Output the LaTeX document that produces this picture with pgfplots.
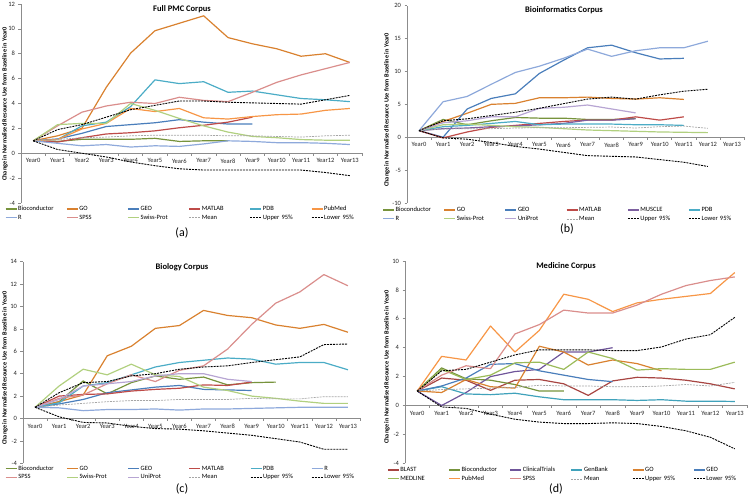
\documentclass[border=0pt]{standalone}
\usepackage{pgfplots}
\pgfplotsset{compat=1.18}
\usepackage{fontspec}
\setmainfont{Carlito}
\definecolor{axisgray}{HTML}{8C8C8C}
\definecolor{cBioc}{HTML}{77933C}
\definecolor{cGO}{HTML}{D9812F}
\definecolor{cGEO}{HTML}{4A7EBB}
\definecolor{cMATLAB}{HTML}{BE4B48}
\definecolor{cPDB}{HTML}{4BACC6}
\definecolor{cPubMed}{HTML}{F79646}
\definecolor{cR}{HTML}{8EA9DB}
\definecolor{cSPSS}{HTML}{DA8E8C}
\definecolor{cSwiss}{HTML}{B1D07F}
\definecolor{cMean}{HTML}{A6A6A6}
\definecolor{cMUSCLE}{HTML}{7D60A0}
\definecolor{cUniProt}{HTML}{B7A5D3}
\definecolor{cBLAST}{HTML}{A84542}
\definecolor{cClin}{HTML}{6F559A}
\definecolor{cGenBank}{HTML}{40A2BB}
\definecolor{cMEDLINE}{HTML}{9BBB59}
\pgfplotsset{
  panel/.style={
    scale only axis, anchor=south west,
    xmin=-0.5, xmax=13.5,
    axis y line*=left, axis x line*=middle,
    axis line style={draw=axisgray, line width=0.6pt},
    xtick={-0.5,0.5,...,13.5}, xticklabels={},
    extra x ticks={0,1,...,13},
    extra x tick labels={Year0,Year1,Year2,Year3,Year4,Year5,Year6,Year7,Year8,Year9,Year10,Year11,Year12,Year13},
    extra x tick style={major tick length=0pt, xticklabel style={yshift=-2pt}},
    tick align=outside, major tick length=2.5pt,
    tick style={draw=axisgray, line width=0.6pt},
    ticklabel style={font=\fontsize{6.5}{7}\selectfont, text=black!85},
    /pgf/number format/assume math mode=true,
    every axis plot/.append style={line width=1.2pt, line join=round},
    legend columns=6,
    legend cell align=left,
    legend image code/.code={\draw[##1] (0pt,0pt) -- (11pt,0pt);},
    legend style={draw=none, fill=none, inner sep=0pt, outer sep=0pt, anchor=north west,
      font=\fontsize{6.5}{7}\selectfont,
      nodes={inner xsep=1pt, inner ysep=1.2pt, text width=47pt, text height=5pt, text depth=1.5pt},
      /tikz/every even column/.append style={column sep=0pt},
      row sep=0pt},
  },
  ci/.style={black, line width=0.9pt, dash pattern=on 2pt off 1pt},
  mn/.style={cMean, line width=0.7pt, dash pattern=on 2pt off 1pt},
}
\begin{document}
\begin{tikzpicture}[x=1pt,y=1pt]
\path[use as bounding box] (0,0) rectangle (748,498);
% ---------------- (a)
\begin{axis}[panel, at={(21pt,295pt)}, width=341pt, height=199pt,
  ymin=-4, ymax=12, ytick={-4,-2,...,12},
  legend style={at={(-0.047,-0.0075)}}]
\addplot[cBioc] coordinates {(0,1)(1,0.95)(2,1.12)(3,1.12)(4,1.12)(5,1.2)(6,0.95)(7,1.0)(8,1.0)};
\addlegendentry{Bioconductor}
\addplot[cGO] coordinates {(0,1)(1,1.4)(2,2.0)(3,5.3)(4,8.05)(5,9.85)(6,10.45)(7,11.05)(8,9.3)(9,8.8)(10,8.4)(11,7.8)(12,8.0)(13,7.3)};
\addlegendentry{GO}
\addplot[cGEO] coordinates {(0,1)(1,1.15)(2,1.6)(3,2.15)(4,2.3)(5,2.45)(6,2.7)(7,2.5)(8,2.35)(9,2.35)};
\addlegendentry{GEO}
\addplot[cMATLAB] coordinates {(0,1)(1,0.9)(2,1.25)(3,1.55)(4,1.65)(5,1.8)(6,2.05)(7,2.25)(8,2.5)(9,2.9)};
\addlegendentry{MATLAB}
\addplot[cPDB] coordinates {(0,1)(1,1.1)(2,2.2)(3,2.5)(4,3.75)(5,5.9)(6,5.6)(7,5.75)(8,4.9)(9,5.0)(10,4.7)(11,4.4)(12,4.3)(13,4.15)};
\addlegendentry{PDB}
\addplot[cPubMed] coordinates {(0,1)(1,1.1)(2,1.95)(3,2.4)(4,3.6)(5,3.35)(6,3.6)(7,2.85)(8,2.75)(9,2.95)(10,3.1)(11,3.15)(12,3.45)(13,3.6)};
\addlegendentry{PubMed}
\addplot[cR] coordinates {(0,1)(1,0.8)(2,0.6)(3,0.7)(4,0.5)(5,0.6)(6,0.55)(7,0.75)(8,1.0)(9,0.95)(10,0.85)(11,0.85)(12,0.8)(13,0.7)};
\addlegendentry{R}
\addplot[cSPSS] coordinates {(0,1)(1,2.2)(2,3.3)(3,3.8)(4,4.1)(5,4.0)(6,4.5)(7,4.25)(8,4.15)(9,4.9)(10,5.7)(11,6.3)(12,6.8)(13,7.3)};
\addlegendentry{SPSS}
\addplot[cSwiss] coordinates {(0,1)(1,2.3)(2,2.4)(3,2.4)(4,4.0)(5,3.45)(6,2.8)(7,2.2)(8,1.7)(9,1.35)(10,1.25)(11,1.1)(12,1.05)(13,1.05)};
\addlegendentry{Swiss-Prot}
\addplot[mn] coordinates {(0,1)(1,1.1)(2,1.25)(3,1.3)(4,1.4)(5,1.45)(6,1.45)(7,1.45)(8,1.4)(9,1.4)(10,1.35)(11,1.3)(12,1.4)(13,1.45)};
\addlegendentry{Mean}
\addplot[ci] coordinates {(0,1)(1,1.9)(2,2.3)(3,2.9)(4,3.5)(5,3.85)(6,4.2)(7,4.2)(8,4.1)(9,4.05)(10,4.0)(11,3.95)(12,4.3)(13,4.65)};
\addlegendentry{Upper 95\%}
\addplot[ci] coordinates {(0,1)(1,0.3)(2,0.0)(3,-0.3)(4,-0.7)(5,-1.0)(6,-1.25)(7,-1.35)(8,-1.35)(9,-1.35)(10,-1.35)(11,-1.35)(12,-1.55)(13,-1.8)};
\addlegendentry{Lower 95\%}
\end{axis}
% ---------------- (b)
\begin{axis}[panel, at={(407pt,295pt)}, width=337pt, height=197.3pt,
  ymin=-10, ymax=20, ytick={-10,-5,...,20},
  legend style={at={(-0.073,-0.0127)}}]
\addplot[cBioc] coordinates {(0,1)(1,2.7)(2,1.9)(3,2.5)(4,3.0)(5,2.9)(6,2.9)(7,2.7)(8,2.7)(9,2.85)};
\addlegendentry{Bioconductor}
\addplot[cGO] coordinates {(0,1)(1,2.4)(2,3.65)(3,5.0)(4,5.15)(5,6.0)(6,6.0)(7,6.1)(8,5.9)(9,5.8)(10,6.0)(11,5.75)};
\addlegendentry{GO}
\addplot[cGEO] coordinates {(0,1)(1,0.0)(2,4.3)(3,5.9)(4,6.6)(5,9.7)(6,11.7)(7,13.6)(8,14.0)(9,12.85)(10,11.9)(11,12.0)};
\addlegendentry{GEO}
\addplot[cMATLAB] coordinates {(0,1)(1,-0.1)(2,0.8)(3,1.5)(4,1.8)(5,2.1)(6,2.4)(7,2.6)(8,2.6)(9,3.1)(10,2.6)(11,3.1)};
\addlegendentry{MATLAB}
\addplot[cMUSCLE] coordinates {(0,1)(1,1.3)(2,1.4)(3,1.6)(4,1.7)(5,1.9)(6,2.1)(7,2.6)(8,2.6)(9,2.8)};
\addlegendentry{MUSCLE}
\addplot[cPDB] coordinates {(0,1)(1,1.6)(2,1.8)(3,2.1)(4,2.4)(5,1.9)(6,2.0)(7,2.0)(8,2.0)(9,1.9)(10,1.9)(11,1.8)};
\addlegendentry{PDB}
\addplot[cR] coordinates {(0,1)(1,5.4)(2,6.2)(3,8.05)(4,9.85)(5,10.8)(6,12.0)(7,13.4)(8,12.3)(9,13.15)(10,13.6)(11,13.6)(12,14.6)};
\addlegendentry{R}
\addplot[cSwiss] coordinates {(0,1)(1,1.9)(2,2.0)(3,1.8)(4,1.6)(5,1.5)(6,1.3)(7,1.1)(8,1.0)(9,0.9)(10,0.8)(11,0.75)(12,0.7)};
\addlegendentry{Swiss-Prot}
\addplot[cUniProt] coordinates {(0,1)(1,2.2)(2,2.5)(3,3.1)(4,3.1)(5,4.4)(6,4.55)(7,4.9)(8,4.3)(9,3.7)};
\addlegendentry{UniProt}
\addplot[mn] coordinates {(0,1)(1,1.25)(2,1.3)(3,1.3)(4,1.4)(5,1.45)(6,1.45)(7,1.5)(8,1.55)(9,1.4)(10,1.6)(11,1.7)(12,1.35)};
\addlegendentry{Mean}
\addplot[ci] coordinates {(0,1)(1,2.5)(2,2.8)(3,3.3)(4,3.8)(5,4.4)(6,5.1)(7,5.8)(8,6.1)(9,5.8)(10,6.45)(11,7.0)(12,7.3)};
\addlegendentry{Upper 95\%}
\addplot[ci] coordinates {(0,1)(1,-0.1)(2,-0.3)(3,-0.8)(4,-1.4)(5,-1.8)(6,-2.3)(7,-2.8)(8,-2.9)(9,-3.0)(10,-3.4)(11,-3.8)(12,-4.45)};
\addlegendentry{Lower 95\%}
\end{axis}
% ---------------- (c)
\begin{axis}[panel, at={(23pt,34.7pt)}, width=337pt, height=201.6pt,
  ymin=-4, ymax=14, ytick={-4,-2,...,14},
  legend style={at={(-0.053,-0.0025)}}]
\addplot[cBioc] coordinates {(0,1)(1,1.5)(2,3.35)(3,2.2)(4,3.2)(5,3.8)(6,3.5)(7,3.7)(8,3.0)(9,3.2)(10,3.25)};
\addlegendentry{Bioconductor}
\addplot[cGO] coordinates {(0,1)(1,1.5)(2,2.1)(3,5.6)(4,6.45)(5,8.05)(6,8.3)(7,9.65)(8,9.2)(9,9.0)(10,8.35)(11,8.05)(12,8.4)(13,7.7)};
\addlegendentry{GO}
\addplot[cGEO] coordinates {(0,1)(1,1.3)(2,1.7)(3,2.3)(4,2.55)(5,2.8)(6,2.95)(7,2.6)(8,2.55)(9,2.5)};
\addlegendentry{GEO}
\addplot[cMATLAB] coordinates {(0,1)(1,2.0)(2,2.15)(3,2.2)(4,2.45)(5,2.6)(6,2.7)(7,3.0)(8,2.95)(9,3.25)};
\addlegendentry{MATLAB}
\addplot[cPDB] coordinates {(0,1)(1,1.4)(2,2.9)(3,3.2)(4,3.9)(5,4.6)(6,5.0)(7,5.2)(8,5.4)(9,5.3)(10,4.85)(11,5.0)(12,5.0)(13,4.35)};
\addlegendentry{PDB}
\addplot[cR] coordinates {(0,1)(1,0.95)(2,0.7)(3,0.8)(4,0.8)(5,0.85)(6,0.75)(7,0.85)(8,0.85)(9,0.9)(10,0.95)(11,1.0)(12,1.0)(13,1.0)};
\addlegendentry{R}
\addplot[cSPSS] coordinates {(0,1)(1,1.8)(2,2.1)(3,3.1)(4,3.9)(5,3.3)(6,4.3)(7,4.7)(8,6.2)(9,8.4)(10,10.3)(11,11.3)(12,12.85)(13,11.85)};
\addlegendentry{SPSS}
\addplot[cSwiss] coordinates {(0,1)(1,2.9)(2,4.4)(3,3.9)(4,4.85)(5,3.9)(6,3.75)(7,2.8)(8,2.5)(9,2.0)(10,1.8)(11,1.55)(12,1.35)(13,1.35)};
\addlegendentry{Swiss-Prot}
\addplot[cUniProt] coordinates {(0,1)(1,1.7)(2,2.9)(3,3.1)(4,3.3)(5,3.8)(6,4.0)(7,4.0)(8,3.5)(9,3.3)};
\addlegendentry{UniProt}
\addplot[mn] coordinates {(0,1)(1,1.2)(2,1.35)(3,1.5)(4,1.6)(5,1.6)(6,1.7)(7,1.7)(8,1.7)(9,1.8)(10,1.75)(11,1.75)(12,1.95)(13,1.95)};
\addlegendentry{Mean}
\addplot[ci] coordinates {(0,1)(1,2.3)(2,3.2)(3,3.3)(4,3.8)(5,4.0)(6,4.4)(7,4.6)(8,4.7)(9,5.0)(10,5.25)(11,5.5)(12,6.6)(13,6.65)};
\addlegendentry{Upper 95\%}
\addplot[ci] coordinates {(0,1)(1,0.15)(2,-0.35)(3,-0.4)(4,-0.7)(5,-0.9)(6,-0.95)(7,-1.1)(8,-1.3)(9,-1.5)(10,-1.8)(11,-2.1)(12,-2.75)(13,-2.75)};
\addlegendentry{Lower 95\%}
\end{axis}
% ---------------- (d)
\begin{axis}[panel, at={(405pt,34.7pt)}, width=342pt, height=202.3pt,
  ymin=-4, ymax=10, ytick={-4,-2,...,10},
  legend style={at={(-0.052,-0.011)}}]
\addplot[cBLAST] coordinates {(0,1)(1,1.9)(2,1.75)(3,1.05)(4,1.75)(5,1.8)(6,1.5)(7,0.7)(8,1.7)(9,1.95)(10,1.9)(11,1.75)(12,1.5)(13,1.15)};
\addlegendentry{BLAST}
\addplot[cBioc] coordinates {(0,1)(1,2.6)(2,1.85)(3,1.75)(4,1.45)(5,1.0)(6,1.0)};
\addlegendentry{Bioconductor}
\addplot[cClin] coordinates {(0,1)(1,0.0)(2,0.9)(3,2.0)(4,2.35)(5,2.5)(6,3.7)(7,3.7)(8,4.0)};
\addlegendentry{ClinicalTrials}
\addplot[cGenBank] coordinates {(0,1)(1,1.3)(2,0.8)(3,0.75)(4,0.85)(5,0.6)(6,0.4)(7,0.4)(8,0.4)(9,0.35)(10,0.4)(11,0.3)(12,0.3)(13,0.28)};
\addlegendentry{GenBank}
\addplot[cGO] coordinates {(0,1)(1,0.9)(2,1.8)(3,1.3)(4,1.2)(5,4.1)(6,3.7)(7,2.8)(8,3.15)(9,2.9)(10,2.4)};
\addlegendentry{GO}
\addplot[cGEO] coordinates {(0,1)(1,1.35)(2,1.9)(3,2.85)(4,2.9)(5,2.4)(6,2.1)(7,1.8)(8,1.65)};
\addlegendentry{GEO}
\addplot[cMEDLINE] coordinates {(0,1)(1,2.5)(2,1.8)(3,2.1)(4,2.95)(5,3.0)(6,2.5)(7,3.7)(8,3.25)(9,2.45)(10,2.55)(11,2.5)(12,2.5)(13,3.0)};
\addlegendentry{MEDLINE}
\addplot[cPubMed] coordinates {(0,1)(1,3.4)(2,3.15)(3,5.5)(4,3.7)(5,5.2)(6,7.7)(7,7.35)(8,6.5)(9,7.1)(10,7.35)(11,7.55)(12,7.75)(13,9.2)};
\addlegendentry{PubMed}
\addplot[cSPSS] coordinates {(0,1)(1,2.1)(2,2.75)(3,2.55)(4,4.95)(5,5.6)(6,6.6)(7,6.4)(8,6.4)(9,6.95)(10,7.7)(11,8.3)(12,8.65)(13,8.9)};
\addlegendentry{SPSS}
\addplot[mn] coordinates {(0,1)(1,1.1)(2,1.15)(3,1.2)(4,1.25)(5,1.4)(6,1.35)(7,1.35)(8,1.3)(9,1.3)(10,1.35)(11,1.45)(12,1.35)(13,1.6)};
\addlegendentry{Mean}
\addplot[ci] coordinates {(0,1)(1,2.4)(2,2.5)(3,3.0)(4,3.5)(5,3.85)(6,3.85)(7,3.85)(8,3.8)(9,3.8)(10,4.05)(11,4.6)(12,4.9)(13,6.1)};
\addlegendentry{Upper 95\%}
\addplot[ci] coordinates {(0,1)(1,-0.1)(2,-0.2)(3,-0.6)(4,-0.95)(5,-1.15)(6,-1.25)(7,-1.25)(8,-1.2)(9,-1.25)(10,-1.45)(11,-1.75)(12,-2.2)(13,-3.0)};
\addlegendentry{Lower 95\%}
\end{axis}
% titles, y labels, captions
\tikzset{ttl/.style={font=\fontsize{8.5}{10}\selectfont\bfseries},
  yl/.style={font=\fontsize{6.3}{7}\selectfont\bfseries, rotate=90},
  capt/.style={font=\fontsize{12}{14}\selectfont}}
\node[ttl] at (182,489) {Full PMC Corpus};
\node[ttl] at (564,488) {Bioinformatics Corpus};
\node[ttl] at (182,231) {Biology Corpus};
\node[ttl] at (566,232) {Medicine Corpus};
\node[yl] at (5,394) {Change in Normalised Resource Use from Baseline in Year0};
\node[yl] at (387,388) {Change in Normalised Resource Use from Baseline in Year0};
\node[yl] at (5,130) {Change in Normalised Resource Use from Baseline in Year0};
\node[yl] at (387,131) {Change in Normalised Resource Use from Baseline in Year0};
\node[capt] at (182,265) {(a)};
\node[capt] at (567,269) {(b)};
\node[capt] at (182,9) {(c)};
\node[capt] at (556,9) {(d)};
\end{tikzpicture}
\end{document}
